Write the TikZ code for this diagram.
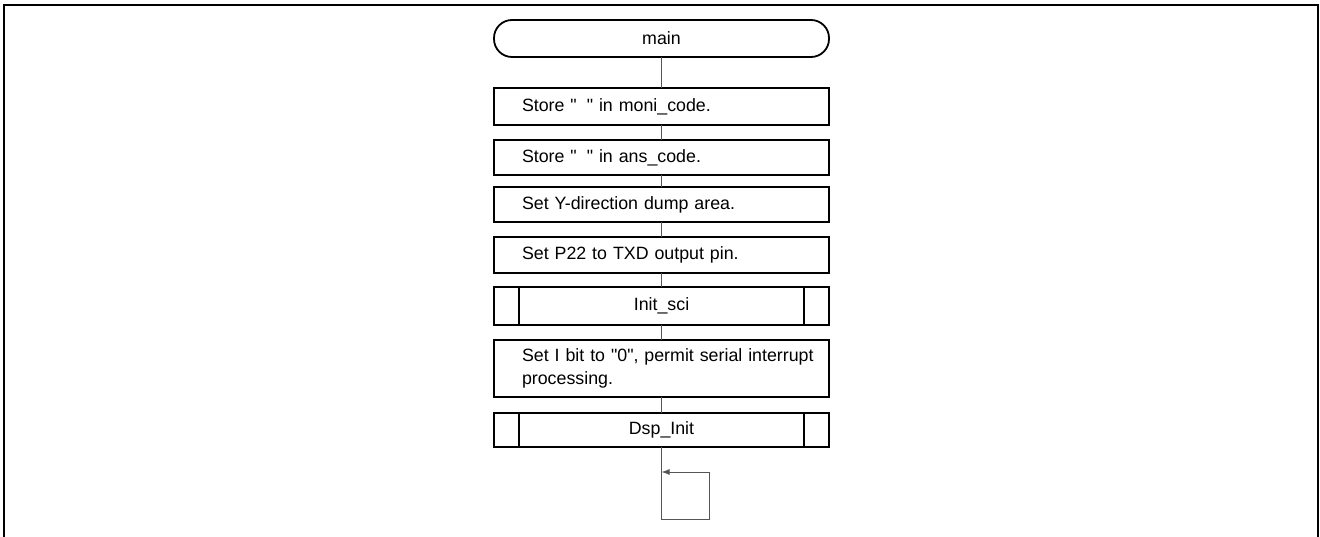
\documentclass[tikz,border=0pt]{standalone}
\usepackage{fontspec}
\setmainfont{Liberation Sans}
\usepackage{xcolor}
\usepackage{tikz}
\usetikzlibrary{arrows.meta, positioning}

\definecolor{linegray}{HTML}{555555}

\begin{document}
\begin{tikzpicture}[x=1pt, y=-1pt,
    block/.style={rectangle, draw=black, line width=1.8pt, fill=white, minimum width=335pt, minimum height=36pt, inner sep=0pt, outer sep=0pt, font=\fontsize{17.8}{23}\selectfont},
    proc/.style={block, text width=335pt, execute at begin node={\raggedright\leftskip=28pt\relax}},
    sub/.style={block, align=center, path picture={
        \draw[line width=1.5pt] ([xshift=25pt]path picture bounding box.north west) -- ([xshift=25pt]path picture bounding box.south west);
        \draw[line width=1.5pt] ([xshift=-25pt]path picture bounding box.north east) -- ([xshift=-25pt]path picture bounding box.south east);}},
    term/.style={block, rounded corners=18pt, minimum height=37pt, align=center},
    flow/.style={draw=linegray, line width=1pt}
]
\useasboundingbox (0,0) rectangle (1320,537);
\draw[line width=2.5pt] (4,537) -- (4,5) -- (1318,5) -- (1318,537);

\node[term] (main) at (661.5,38.5) {main};
\node[proc, minimum height=37pt, below=31pt of main] (moni) {Store \textquotedbl\hspace{10pt}\textquotedbl{} in moni\_code.};
\node[proc, minimum height=35pt, below=15pt of moni] (ans) {Store \textquotedbl\hspace{10pt}\textquotedbl{} in ans\_code.};
\node[proc, minimum height=35pt, below=12pt of ans] (dump) {Set Y-direction dump area.};
\node[proc, below=15pt of dump] (txd) {Set P22 to TXD output pin.};
\node[sub, minimum height=38pt, below=14pt of txd] (sci) {Init\_sci};
\node[proc, minimum height=57pt, below=15pt of sci] (ibit) {Set I bit to \textquotedbl0\textquotedbl, permit serial interrupt\\processing.};
\node[sub, minimum height=34pt, below=16pt of ibit] (dsp) {Dsp\_Init};

\draw[flow] (main) -- (moni);
\draw[flow] (moni) -- (ans);
\draw[flow] (ans) -- (dump);
\draw[flow] (dump) -- (txd);
\draw[flow] (txd) -- (sci);
\draw[flow] (sci) -- (ibit);
\draw[flow] (ibit) -- (dsp);

% endless loop at the end
\coordinate (loopbot) at ([yshift=-72pt]dsp.south);
\coordinate (loopright) at ([xshift=48pt, yshift=-25pt]dsp.south);
\draw[flow] (dsp.south) -- (loopbot) -| (loopright);
\draw[flow, -{Latex[length=8pt, width=6pt]}] (loopright) -- (dsp.south |- loopright);
\end{tikzpicture}
\end{document}
